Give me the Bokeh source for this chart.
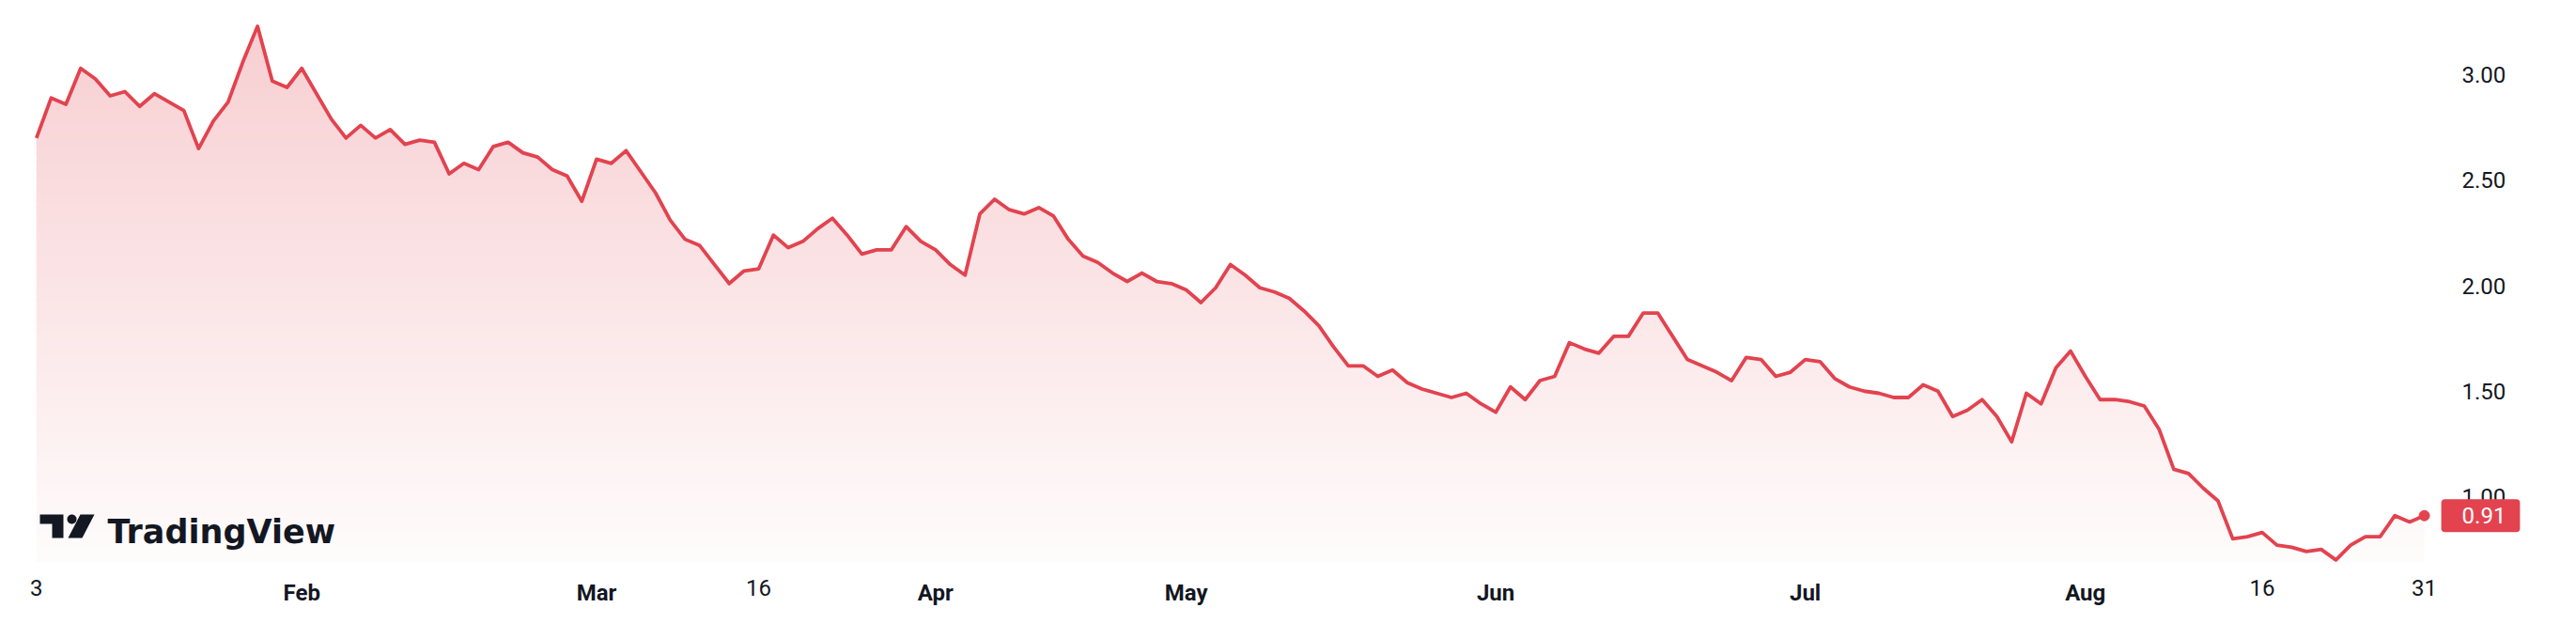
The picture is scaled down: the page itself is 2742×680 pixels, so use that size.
import numpy as np
from bokeh.plotting import figure
from bokeh.models import (Range1d, FixedTicker, NumeralTickFormatter, Label,
                          PolyAnnotation, ColumnDataSource, LinearAxis)
from bokeh.embed import file_html
from bokeh.resources import INLINE

# ---------------- data ----------------
values = [
    2.70, 2.89, 2.86, 3.03, 2.98, 2.90, 2.92, 2.85, 2.91, 2.87,
    2.83, 2.65, 2.78, 2.87, 3.06, 3.23, 2.97, 2.94, 3.03, 2.91,
    2.79, 2.70, 2.76, 2.70, 2.74, 2.67, 2.69, 2.68, 2.53, 2.58,
    2.55, 2.66, 2.68, 2.63, 2.61, 2.55, 2.52, 2.40, 2.60, 2.58,
    2.64, 2.54, 2.44, 2.31, 2.22, 2.19, 2.10, 2.01, 2.07, 2.08,
    2.24, 2.18, 2.21, 2.27, 2.32, 2.24, 2.15, 2.17, 2.17, 2.28,
    2.21, 2.17, 2.10, 2.05, 2.34, 2.41, 2.36, 2.34, 2.37, 2.33,
    2.22, 2.14, 2.11, 2.06, 2.02, 2.06, 2.02, 2.01, 1.98, 1.92,
    1.99, 2.10, 2.05, 1.99, 1.97, 1.94, 1.88, 1.81, 1.71, 1.62,
    1.62, 1.57, 1.60, 1.54, 1.51, 1.49, 1.47, 1.49, 1.44, 1.40,
    1.52, 1.46, 1.55, 1.57, 1.73, 1.70, 1.68, 1.76, 1.76, 1.87,
    1.87, 1.76, 1.65, 1.62, 1.59, 1.55, 1.66, 1.65, 1.57, 1.59,
    1.65, 1.64, 1.56, 1.52, 1.50, 1.49, 1.47, 1.47, 1.53, 1.50,
    1.38, 1.41, 1.46, 1.38, 1.26, 1.49, 1.44, 1.61, 1.69, 1.57,
    1.46, 1.46, 1.45, 1.43, 1.32, 1.13, 1.11, 1.04, 0.98, 0.80,
    0.81, 0.83, 0.77, 0.76, 0.74, 0.75, 0.70, 0.77, 0.81, 0.81,
    0.91, 0.88, 0.91,
]
bars = list(range(len(values)))

tick_bars = [0, 18, 38, 49, 61, 78, 99, 120, 139, 151, 162]
tick_labels = ["3", "Feb", "Mar", "16", "Apr", "May", "Jun", "Jul", "Aug", "16", "31"]

price_ticks = [1.0, 1.5, 2.0, 2.5, 3.0]

# ---------------- style / layout ----------------
RED = (226, 67, 79)
RED_HEX = "#%02x%02x%02x" % RED
TEXT = "#131722"
AXIS_FONT = "Roboto"
W, H = 2742, 680

# the frame covers the whole canvas; the price pane ends at PANE_RIGHT / PANE_BOTTOM
X_LO, X_HI = -2.441, 172.32
Y_LO, Y_HI = 0.3229, 3.352
PANE_RIGHT, PANE_BOTTOM = 163.27, 0.6927

p = figure(width=W, height=H, min_border=0,
           x_range=Range1d(X_LO, X_HI), y_range=Range1d(Y_LO, Y_HI),
           x_axis_location=None, y_axis_location=None,
           output_backend="svg", toolbar_location=None)
p.outline_line_color = None
p.grid.visible = False
p.background_fill_color = "white"
p.border_fill_color = "white"

# ---- gradient fill under the line: colour bands, masked above the line ----
v_top = max(values)
edges = np.linspace(PANE_BOTTOM, v_top, 71)
bottoms, tops, colors = [], [], []
for k in range(len(edges) - 1):
    t = (edges[k] - PANE_BOTTOM) / (v_top - PANE_BOTTOM)
    a = 0.02 + 0.24 * t
    c = tuple(int(round(255 - a * (255 - ch))) for ch in RED)
    bottoms.append(edges[k])
    tops.append(edges[k + 1] + (edges[1] - edges[0]) * 0.5)
    colors.append("#%02x%02x%02x" % c)
band_src = ColumnDataSource(dict(bottom=bottoms, top=tops, color=colors))
p.quad(left=bars[0], right=bars[-1], bottom="bottom", top="top",
       fill_color="color", line_color=None, source=band_src)
# white mask from the line up, reaching a little past both ends
mask_x = [bars[0] - 1] + bars + [bars[-1] + 1, bars[-1] + 1, bars[0] - 1]
mask_y = [values[0]] + values + [values[-1], Y_HI + 1, Y_HI + 1]
p.patch(mask_x, mask_y, fill_color="white", line_color=None)

p.line(bars, values, line_width=3.8, color=RED_HEX, line_join="round")
p.scatter([bars[-1]], [values[-1]], size=11, color=RED_HEX)

# ---- price scale (right edge of the pane) ----
ya = LinearAxis(fixed_location=PANE_RIGHT,
                ticker=FixedTicker(ticks=price_ticks),
                formatter=NumeralTickFormatter(format="0.00"),
                axis_line_color=None, major_tick_line_color=None,
                minor_tick_line_color=None, major_tick_out=0, major_tick_in=0,
                major_label_standoff=20,
                major_label_text_font=AXIS_FONT, major_label_text_font_size="24px",
                major_label_text_color=TEXT)
p.add_layout(ya, "right")

# ---- time scale (bottom of the pane): month names bold, day numbers regular ----
def time_axis(keep, bold):
    ticks = [b for b, t in zip(tick_bars, tick_labels) if keep(t)]
    return LinearAxis(fixed_location=PANE_BOTTOM,
                      ticker=FixedTicker(ticks=ticks),
                      major_label_overrides={b: t for b, t in zip(tick_bars, tick_labels) if keep(t)},
                      axis_line_color=None, major_tick_line_color=None,
                      minor_tick_line_color=None, major_tick_out=0, major_tick_in=0,
                      major_label_standoff=20,
                      major_label_text_font=AXIS_FONT, major_label_text_font_size="24px",
                      major_label_text_font_style="bold" if bold else "normal",
                      major_label_text_color=TEXT)

p.add_layout(time_axis(lambda t: t.isalpha(), True), "below")
p.add_layout(time_axis(lambda t: not t.isalpha(), False), "below")

# ---- last price tag ----
p.add_layout(Label(x=bars[-1], y=values[-1], x_offset=18, text=f"{values[-1]:.2f}",
                   text_align="left", text_baseline="middle",
                   text_font=AXIS_FONT, text_font_size="24px", text_color="white",
                   background_fill_color=RED_HEX, border_radius=4,
                   padding=dict(left=22, right=15, top=9, bottom=9)))

# ---- TradingView logo (screen units, relative to canvas bottom-left) ----
def sy(y):
    return H - y

logo_polys = [
    [(42, 547), (67, 547), (67, 572), (55, 572), (55, 557), (42, 557)],
    [(85, 547), (100, 547), (87, 572), (72, 572)],
]
for poly in logo_polys:
    p.add_layout(PolyAnnotation(xs=[a for a, _ in poly], ys=[sy(b) for _, b in poly],
                                xs_units="screen", ys_units="screen",
                                fill_color=TEXT, fill_alpha=1.0, line_color=None))
ang = np.linspace(0, 2 * np.pi, 32, endpoint=False)
p.add_layout(PolyAnnotation(xs=list(76 + 5 * np.cos(ang)), ys=list(sy(552 + 5 * np.sin(ang))),
                            xs_units="screen", ys_units="screen",
                            fill_color=TEXT, fill_alpha=1.0, line_color=None))
p.add_layout(Label(x=114, y=sy(565), x_units="screen", y_units="screen",
                   text="TradingView", text_baseline="alphabetic", text_align="left",
                   text_font="DejaVu Sans", text_font_style="bold", text_font_size="35px",
                   text_color=TEXT))

open("out.html", "w").write(file_html(p, INLINE))
